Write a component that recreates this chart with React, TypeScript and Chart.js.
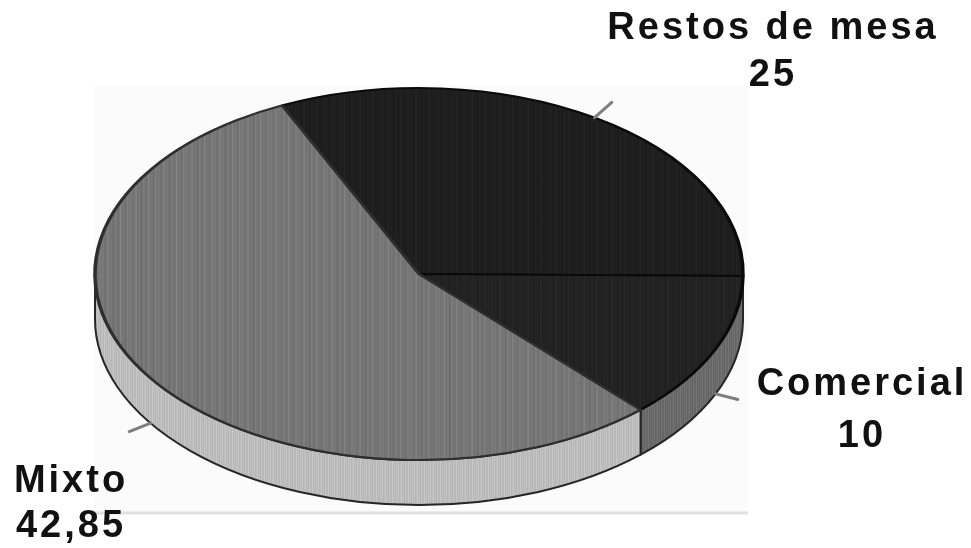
import { useEffect, useRef } from "react";
import { Chart, registerables } from "chart.js";

Chart.register(...registerables);

// Slices, in drawing order (clockwise from the upper left)
const categories = ["Restos de mesa", "Comercial", "Mixto"];
const values = [25, 10, 42.85];
const valueLabels = ["25", "10", "42,85"];

// Face and rim shades of each slice
const topColors = ["#1f1f1f", "#232323", "#777777"];
const sideColors = ["#4a4a4a", "#6b6b6b", "#bdbdbd"];

// Canvas and projected-disc geometry
const W = 971;
const H = 548;
const CX = 419;
const CY = 274;
const RX = 324;
const RY = 186;
const DEPTH = 45;
const ROTATION = -25;
const LEADER = 23;

// Label anchors: centre x, first baseline, second baseline
const labelPos: [number, number, number][] = [
  [773, 39, 86],
  [862, 395, 447],
  [71, 492, 537],
];

// Column shading for the hatched printing texture
const STRIPES = [0, 10, -6, 4, -12, 6, 0, -8, 12, -4, 2, -10, 8, -2, 5, -7];

function hexToRgb(hex: string): [number, number, number] {
  const n = parseInt(hex.slice(1), 16);
  return [(n >> 16) & 255, (n >> 8) & 255, n & 255];
}

function stripePattern(base: string, amount: number): CanvasPattern | string {
  const c = document.createElement("canvas");
  c.width = STRIPES.length;
  c.height = 4;
  const g = c.getContext("2d");
  if (!g) return base;
  const [r, gg, b] = hexToRgb(base);
  STRIPES.forEach((t, i) => {
    const d = Math.round(t * amount);
    const cl = (v: number) => Math.max(0, Math.min(255, v + d));
    g.fillStyle = `rgb(${cl(r)},${cl(gg)},${cl(b)})`;
    g.fillRect(i, 0, 1, 4);
  });
  return g.createPattern(c, "repeat") || base;
}

function makePlugin(sidePatterns: (CanvasPattern | string)[]) {
  return {
    id: "pie3d",
    beforeDraw(chart: any) {
      const ctx = chart.ctx as CanvasRenderingContext2D;
      ctx.save();
      ctx.fillStyle = "#ffffff";
      ctx.fillRect(0, 0, W, H);
      ctx.fillStyle = "#fbfbfb";
      ctx.fillRect(95, 85, 653, 428);
      ctx.strokeStyle = "#e0e0e0";
      ctx.lineWidth = 3;
      ctx.beginPath();
      ctx.moveTo(95, 513);
      ctx.lineTo(748, 513);
      ctx.stroke();
      ctx.restore();
    },
    beforeDatasetsDraw(chart: any) {
      const ctx = chart.ctx as CanvasRenderingContext2D;
      const meta = chart.getDatasetMeta(0);
      // Rim of the disc: only the front half is visible
      meta.data.forEach((arc: any, i: number) => {
        const { startAngle, endAngle } = arc.getProps(["startAngle", "endAngle"], true);
        for (let k = -2; k <= 2; k++) {
          const off = k * 2 * Math.PI;
          const a0 = Math.max(startAngle, off);
          const a1 = Math.min(endAngle, off + Math.PI);
          if (a1 <= a0) continue;
          ctx.save();
          ctx.beginPath();
          ctx.ellipse(CX, CY, RX, RY, 0, a0 - off, a1 - off);
          ctx.ellipse(CX, CY + DEPTH, RX, RY, 0, a1 - off, a0 - off, true);
          ctx.closePath();
          ctx.fillStyle = sidePatterns[i] as any;
          ctx.fill();
          ctx.strokeStyle = "#262626";
          ctx.lineWidth = 2;
          ctx.stroke();
          ctx.restore();
        }
      });
      // Squash the library's round pie onto the tilted top face
      const el = meta.data[0];
      const r = el.outerRadius;
      ctx.save();
      ctx.translate(CX, CY);
      ctx.scale(RX / r, RY / r);
      ctx.translate(-el.x, -el.y);
    },
    afterDatasetsDraw(chart: any) {
      const ctx = chart.ctx as CanvasRenderingContext2D;
      ctx.restore();
      const meta = chart.getDatasetMeta(0);
      meta.data.forEach((arc: any) => {
        const { startAngle, endAngle } = arc.getProps(["startAngle", "endAngle"], true);
        const mid = (startAngle + endAngle) / 2;
        const c = Math.cos(mid);
        const s = Math.sin(mid);
        const x0 = CX + RX * c;
        const y0 = CY + RY * s + (s > 0 ? DEPTH : 0);
        const len = Math.hypot(RX * c, RY * s);
        const x1 = x0 + (RX * c / len) * LEADER;
        const y1 = y0 + (RY * s / len) * LEADER;
        ctx.save();
        ctx.strokeStyle = "#7d7d7d";
        ctx.lineWidth = 3;
        ctx.lineCap = "round";
        ctx.beginPath();
        ctx.moveTo(x0, y0);
        ctx.lineTo(x1, y1);
        ctx.stroke();
        ctx.restore();
      });
      ctx.save();
      ctx.fillStyle = "#111111";
      ctx.font = "bold 38px 'Liberation Sans', Arial, sans-serif";
      (ctx as any).letterSpacing = "3px";
      ctx.textAlign = "center";
      ctx.textBaseline = "alphabetic";
      categories.forEach((name, i) => {
        const [x, y1, y2] = labelPos[i];
        ctx.fillText(name, x, y1);
        ctx.fillText(valueLabels[i], x, y2);
      });
      ctx.restore();
    },
  };
}

export default function App() {
  const canvasRef = useRef<HTMLCanvasElement | null>(null);

  useEffect(() => {
    const canvas = canvasRef.current;
    if (!canvas) return;
    const topPatterns = topColors.map((c, i) => stripePattern(c, i === 2 ? 1 : 0.4));
    const sidePatterns = sideColors.map((c) => stripePattern(c, 0.8));
    const chart = new Chart(canvas, {
      type: "pie",
      data: {
        labels: categories,
        datasets: [
          {
            data: values,
            backgroundColor: topPatterns as any,
            borderColor: ["#0a0a0a", "#0a0a0a", "#2e2e2e"],
            borderWidth: 2,
            clip: false as any,
          },
        ],
      },
      options: {
        animation: false,
        responsive: false,
        events: [],
        rotation: ROTATION,
        layout: {
          padding: {
            left: CX - RY,
            right: W - CX - RY,
            top: CY - RY,
            bottom: H - CY - RY,
          },
        },
        plugins: {
          legend: { display: false },
          tooltip: { enabled: false },
        },
      },
      plugins: [makePlugin(sidePatterns)],
    });
    return () => chart.destroy();
  }, []);

  return (
    <div style={{ position: "fixed", left: 0, top: 0, width: W, height: H, background: "#fff" }}>
      <canvas ref={canvasRef} width={W} height={H} style={{ display: "block" }} />
    </div>
  );
}
